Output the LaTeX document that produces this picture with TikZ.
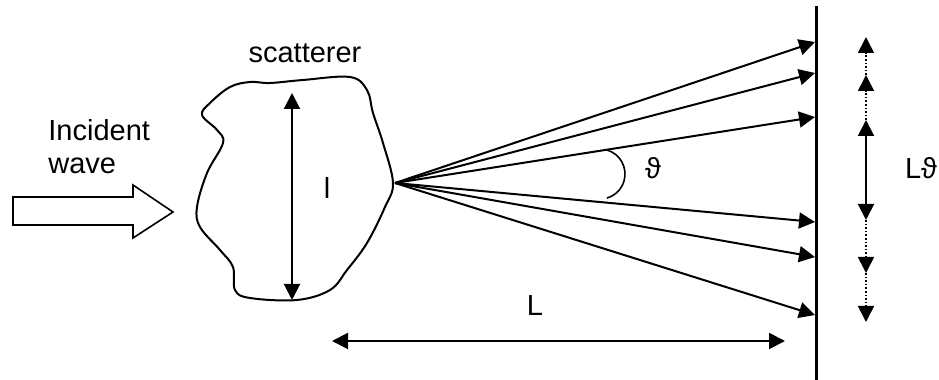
\documentclass[tikz,border=0pt]{standalone}
\usepackage{fontspec}
\setmainfont{Liberation Sans}
\usetikzlibrary{arrows.meta}

\begin{document}
\begin{tikzpicture}[x=0.5pt, y=0.5pt, >={Triangle[length=8pt, width=8pt]},
    lbl/.style={font=\fontsize{14.5}{16.5}\selectfont, inner sep=0pt},
    ray/.style={->, line width=1pt},
    dim/.style={<->, line width=1pt},
    dots/.style={->, line width=0.8pt, densely dotted}]
    \useasboundingbox (0, 0) rectangle (939, 380);

    % incident wave
    \draw[line width=0.8pt] (13, 183) -- (133, 183) -- (133, 195) -- (173, 168)
        -- (133, 142) -- (133, 155) -- (13, 155) -- cycle;
    \node[lbl, anchor=west, align=left] (inc) at (48, 233) {Incident\\wave};

    % scatterer
    \draw[line width=1pt] plot[smooth cycle, tension=0.6] coordinates {
        (230, 293) (250, 298) (270, 297) (303, 300) (350, 303) (367, 290)
        (373, 267) (383, 237) (393, 197) (385, 173) (367, 137) (347, 110)
        (330, 90) (297, 80) (250, 82) (235, 90) (233, 113) (220, 130)
        (200, 153) (197, 173) (207, 207) (223, 237) (217, 250) (202, 265)
        (210, 277)};
    \node[lbl] (scat) at (305, 327) {scatterer};

    % size l
    \coordinate (ltop) at (292, 287);
    \coordinate (lbot) at (292, 80);
    \draw[dim] (lbot) -- (ltop);
    \node[lbl] (lsize) at (327, 192) {l};

    % screen
    \coordinate (scrtop) at (816, 374);
    \coordinate (scrbot) at (816, 0);
    \draw[line width=1.5pt] (scrtop) -- (scrbot);

    % scattered rays
    \coordinate (src) at (395, 197);
    \coordinate (h1) at (815, 338);
    \coordinate (h2) at (815, 307);
    \coordinate (h3) at (815, 263);
    \coordinate (h4) at (815, 158);
    \coordinate (h5) at (815, 123);
    \coordinate (h6) at (815, 65);
    \foreach \h in {h1, h2, h3, h4, h5, h6}
        \draw[ray] (src) -- (\h);

    % angle
    \draw[line width=0.8pt] (606.9, 230) arc[start angle=74, end angle=-74, radius=25];
    \node[lbl] (theta) at (653, 212) {ϑ};

    % distance L
    \coordinate (la) at (332, 39);
    \coordinate (lb) at (785, 39);
    \draw[dim] (la) -- (lb);
    \node[lbl] (dist) at (535, 74) {L};

    % spread on the screen
    \coordinate (p0) at (866, 343);
    \coordinate (p1) at (866, 305);
    \coordinate (p2) at (866, 260);
    \coordinate (p3) at (866, 160);
    \coordinate (p4) at (866, 107);
    \coordinate (p5) at (866, 58);
    \draw[dots] (p1) -- (p0);
    \draw[dots] (p2) -- (p1);
    \draw[dim] (p3) -- (p2);
    \draw[dots] (p3) -- (p4);
    \draw[dots] (p4) -- (p5);
    \node[lbl] (spread) at (921, 212) {Lϑ};
\end{tikzpicture}
\end{document}
